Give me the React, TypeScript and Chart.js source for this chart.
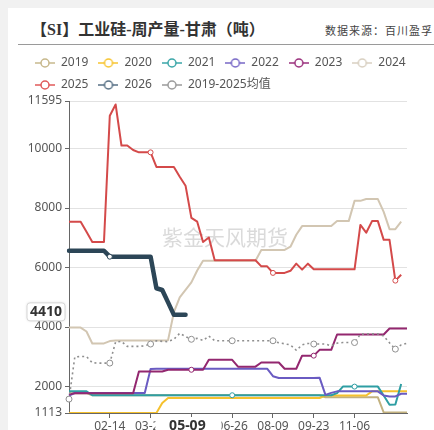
import React, { useEffect, useRef } from 'react';
import { Chart, registerables } from 'chart.js';

Chart.register(...registerables);

const categories = [
  '01-01', '01-07', '01-13', '01-19', '01-25', '02-01', '02-08', '02-14', '02-20', '02-26',
  '03-04', '03-10', '03-16', '03-22', '03-28', '04-03', '04-09', '04-15', '04-21', '04-27',
  '05-03', '05-09', '05-16', '05-23', '05-30', '06-06', '06-13', '06-19', '06-26', '07-02',
  '07-08', '07-14', '07-21', '07-27', '08-03', '08-09', '08-15', '08-22', '08-28', '09-04',
  '09-10', '09-17', '09-23', '09-29', '10-06', '10-12', '10-18', '10-24', '10-31', '11-06',
  '11-12', '11-19', '11-25', '12-01', '12-07', '12-13', '12-19', '12-25', '12-31',
];
const shownLabelIdx = [7, 14, 21, 28, 35, 42, 49];
const yTicks = [1113, 2000, 4000, 6000, 8000, 10000, 11595];
const yMin = 1113;
const yMax = 11595;
const pointerIdx = 21;
const pointerValue = 4410;

const seriesNames = ['2019', '2020', '2021', '2022', '2023', '2024', '2025', '2026', '2019-2025均值'];

const s2019 = [
  1780, 1780, 1780, 1780, 1710, 1710, 1710, 1710, 1710, 1710,
  1710, 1710, 1710, 1710, 1710, 1710, 1710, 1710, 1710, 1710,
  1710, 1710, 1710, 1710, 1710, 1710, 1710, 1710, 1710, 1710,
  1710, 1710, 1710, 1710, 1710, 1710, 1710, 1710, 1710, 1710,
  1710, 1710, 1710, 1710, 1640, 1640, 1640, 1640, 1640, 1640,
  1640, 1640, 1640, 1640, 1130, 1130, 1130, 1130, 1130,
];
const s2020 = [
  1113, 1113, 1113, 1113, 1113, 1113, 1113, 1113, 1113, 1113,
  1113, 1113, 1113, 1113, 1113, 1113, 1450, 1616, 1616, 1616,
  1616, 1616, 1616, 1616, 1616, 1616, 1616, 1616, 1616, 1616,
  1616, 1616, 1616, 1616, 1616, 1616, 1616, 1616, 1616, 1616,
  1616, 1616, 1616, 1616, 1700, 1700, 1700, 1700, 1700, 1700,
  1700, 1700, 1840, 1840, 1840, 1840, 1840, 1840, 1840,
];
const s2021 = [
  1840, 1840, 1840, 1840, 1710, 1710, 1710, 1710, 1710, 1710,
  1710, 1710, 1710, 1710, 1710, 1710, 1710, 1710, 1710, 1710,
  1710, 1710, 1710, 1710, 1710, 1710, 1710, 1710, 1710, 1710,
  1710, 1710, 1710, 1710, 1710, 1710, 1710, 1710, 1710, 1710,
  1710, 1710, 1710, 1710, 1710, 1710, 1780, 2000, 2000, 2000,
  2000, 2000, 2000, 2000, 1700, 1392, 1400, 2090,
];
const s2022 = [
  1700, 1784, 1784, 1784, 1784, 1784, 1784, 1784, 1784, 1784,
  1784, 1784, 1784, 1784, 2590, 2600, 2600, 2600, 2600, 2600,
  2600, 2600, 2600, 2600, 2600, 2600, 2600, 2600, 2600, 2600,
  2600, 2600, 2600, 2600, 2600, 2350, 2287, 2287, 2287, 2287,
  2287, 2287, 2287, 2300, 1720, 1790, 1840, 1840, 1840, 1840,
  1840, 1840, 1840, 1840, 1700, 1670, 1670, 1760, 1760,
];
const s2023 = [
  1730, 1780, 1780, 1780, 1780, 1780, 1780, 1780, 1780, 1780,
  1780, 1780, 2510, 2510, 2510, 2510, 2510, 2565, 2565, 2565,
  2565, 2565, 2565, 2565, 2900, 2900, 2900, 2900, 2900, 2670,
  2670, 2670, 2670, 2810, 2810, 2810, 2810, 2600, 2600, 2600,
  3040, 3040, 3040, 3235, 3235, 3235, 3750, 3750, 3750, 3750,
  3750, 3750, 3750, 3750, 3750, 3950, 3950, 3950, 3950,
];
const s2024 = [
  3983, 3983, 3983, 3850, 3450, 3450, 3450, 3530, 3550, 3550,
  3550, 3550, 3550, 3550, 3550, 3550, 3550, 3560, 4500, 5000,
  5250, 5500, 5900, 6230, 6230, 6230, 6230, 6230, 6230, 6230,
  6230, 6230, 6230, 6590, 6590, 6590, 6590, 6590, 6700, 7100,
  7393, 7393, 7393, 7393, 7393, 7393, 7560, 7560, 7560, 8240,
  8240, 8300, 8300, 8300, 7870, 7290, 7290, 7540,
];
const s2025 = [
  7540, 7540, 7540, 7200, 6860, 6860, 6860, 11100, 11480, 10100,
  10100, 9950, 9870, 9870, 9870, 9380, 9380, 9380, 9380, 9050,
  8750, 7670, 7540, 6860, 7010, 6245, 6245, 6245, 6245, 6245,
  6245, 6245, 6245, 6040, 6040, 5820, 5820, 5820, 5890, 6130,
  5930, 6130, 5940, 5940, 5940, 5940, 5940, 5940, 5940, 5940,
  7430, 7170, 7560, 7560, 6930, 6930, 5560, 5760,
];
const s2026 = [
  6565, 6565, 6565, 6565, 6565, 6565, 6565, 6365, 6365, 6365,
  6365, 6365, 6365, 6365, 6365, 5305, 5245, 4830, 4410, 4410,
  4410,
];
const sAvg = [
  1580, 3000, 3010, 3010, 2800, 2790, 2790, 2790, 3500, 3520,
  3350, 3350, 3350, 3370, 3430, 3540, 3520, 3510, 3590, 3790,
  3680, 3590, 3620, 3550, 3700, 3540, 3540, 3540, 3540, 3540,
  3540, 3540, 3540, 3540, 3540, 3540, 3470, 3440, 3400, 3220,
  3400, 3450, 3430, 3430, 3430, 3370, 3460, 3480, 3480, 3480,
  3760, 3770, 3770, 3770, 3700, 3470, 3260, 3400, 3460,
];

const seriesData = [s2019, s2020, s2021, s2022, s2023, s2024, s2025, s2026, sAvg];
const lineColors = ['#c2b17f', '#f5c12e', '#2e9ea3', '#6a5bc2', '#93276f', '#d2c6b2', '#d44a4a', '#2c4657', '#8f8f8f'];
const legendColors = ['#c7b88c', '#f7c531', '#3aa6a8', '#7767c6', '#9a2f7c', '#d8cfc0', '#e05a5a', '#566f84', '#9a9a9a'];
const markerIdx = [[], [], [28, 49], [], [21, 42], [], [14, 35, 56], [7], [0, 7, 14, 21, 28, 35, 42, 49, 56]];

const FONT = '"Noto Sans", "Noto Sans CJK SC", sans-serif';
const TOP = 37;

function makeIcon(color: string) {
  const c = document.createElement('canvas');
  c.width = 20;
  c.height = 12;
  const ctx = c.getContext('2d')!;
  ctx.strokeStyle = color;
  ctx.lineWidth = 1.5;
  ctx.beginPath();
  ctx.moveTo(0, 6);
  ctx.lineTo(20, 6);
  ctx.stroke();
  ctx.fillStyle = '#fff';
  ctx.beginPath();
  ctx.arc(10, 6, 4, 0, Math.PI * 2);
  ctx.fill();
  ctx.stroke();
  return c;
}

function roundRect(ctx: CanvasRenderingContext2D, x: number, y: number, w: number, h: number, r: number) {
  ctx.beginPath();
  ctx.moveTo(x + r, y);
  ctx.lineTo(x + w - r, y);
  ctx.quadraticCurveTo(x + w, y, x + w, y + r);
  ctx.lineTo(x + w, y + h - r);
  ctx.quadraticCurveTo(x + w, y + h, x + w - r, y + h);
  ctx.lineTo(x + r, y + h);
  ctx.quadraticCurveTo(x, y + h, x, y + h - r);
  ctx.lineTo(x, y + r);
  ctx.quadraticCurveTo(x, y, x + r, y);
  ctx.closePath();
}

const watermarkPlugin = {
  id: 'watermark',
  beforeDatasetsDraw(chart: any) {
    const ctx = chart.ctx;
    ctx.save();
    ctx.font = '21px "Noto Sans CJK SC", sans-serif';
    ctx.fillStyle = 'rgba(150,150,150,0.35)';
    ctx.textBaseline = 'middle';
    ctx.textAlign = 'left';
    ctx.fillText('紫金天风期货', 162, 237 - TOP);
    ctx.restore();
  },
};

const pointerPlugin = {
  id: 'pointerLabels',
  afterDraw(chart: any) {
    const ctx = chart.ctx;
    const xs = chart.scales.x;
    const ys = chart.scales.y;
    const px = xs.getPixelForValue(pointerIdx);
    const py = ys.getPixelForValue(pointerValue);
    ctx.save();
    ctx.fillStyle = '#fff';
    ctx.fillRect(px - 36, chart.chartArea.bottom + 4, 66, 30);
    ctx.fillStyle = '#333';
    ctx.font = 'bold 14px ' + FONT;
    ctx.textAlign = 'center';
    ctx.textBaseline = 'middle';
    ctx.fillText(categories[pointerIdx], px - 4, chart.chartArea.bottom + 13);
    const bx = 27, bw = 38, bh = 18;
    const by = py - 3 - bh / 2;
    ctx.shadowColor = 'rgba(0,0,0,0.15)';
    ctx.shadowBlur = 3;
    roundRect(ctx, bx, by, bw, bh, 3);
    ctx.fillStyle = '#fff';
    ctx.fill();
    ctx.shadowBlur = 0;
    ctx.strokeStyle = '#d6d6d6';
    ctx.lineWidth = 1;
    ctx.stroke();
    ctx.fillStyle = '#333';
    ctx.fillText(String(pointerValue), bx + bw / 2, by + bh / 2 + 0.5);
    ctx.restore();
  },
};

export default function App() {
  const ref = useRef<HTMLCanvasElement>(null);

  useEffect(() => {
    if (!ref.current) return;
    const icons = legendColors.map(makeIcon);
    const n = seriesData.length;
    const datasets = seriesData.map((data, i) => {
      const isAvg = i === n - 1;
      const is2026 = i === 7;
      return {
        label: seriesNames[i],
        data,
        order: 20 - i,
        borderColor: lineColors[i],
        backgroundColor: lineColors[i],
        borderWidth: is2026 ? 4.5 : isAvg ? 1.6 : 2,
        borderDash: isAvg ? [2, 3] : [],
        borderJoinStyle: 'round' as const,
        borderCapStyle: is2026 ? ('round' as const) : ('butt' as const),
        tension: 0,
        fill: false,
        pointRadius: (ctx: any) => (markerIdx[i].includes(ctx.dataIndex) ? (isAvg ? 3 : 2.5) : 0),
        pointBackgroundColor: '#fff',
        pointBorderColor: lineColors[i],
        pointBorderWidth: 1,
        pointHoverRadius: 0,
      };
    });

    const chart = new Chart(ref.current, {
      type: 'line',
      data: { labels: categories, datasets },
      options: {
        animation: false,
        responsive: false,
        events: [],
        layout: { padding: { left: 25, right: 0, top: 10, bottom: 0 } },
        font: { family: FONT },
        scales: {
          x: {
            type: 'category',
            offset: false,
            grid: { drawOnChartArea: false, drawTicks: true, tickLength: 5, tickColor: '#666' },
            border: { color: '#666' },
            ticks: {
              autoSkip: false,
              maxRotation: 0,
              color: '#555',
              font: { size: 12, family: FONT },
              padding: 1,
            },
            afterBuildTicks: (s: any) => {
              s.ticks = shownLabelIdx.map((v) => ({ value: v }));
            },
            afterFit: (s: any) => {
              s.height = 17;
            },
          },
          y: {
            type: 'linear',
            min: yMin,
            max: yMax,
            grid: { color: '#e2e2e2', tickColor: '#666', tickLength: 4 },
            border: { color: '#666' },
            ticks: {
              color: '#555',
              font: { size: 12, family: FONT },
              padding: 3,
              callback: (v: any) => String(v),
            },
            afterBuildTicks: (s: any) => {
              s.ticks = yTicks.map((v) => ({ value: v }));
            },
            afterFit: (s: any) => {
              s.width = 44;
            },
          },
          y2: {
            type: 'linear',
            position: 'right',
            display: true,
            grid: { display: false, drawTicks: false },
            border: { display: false },
            ticks: { display: false },
            afterFit: (s: any) => {
              s.width = 27;
            },
          },
        },
        plugins: {
          title: { display: false },
          tooltip: { enabled: false },
          legend: {
            display: true,
            position: 'top',
            align: 'start',
            labels: {
              usePointStyle: true,
              pointStyleWidth: 20,
              boxHeight: 12,
              padding: 10,
              color: '#555',
              font: { size: 12, family: FONT },
              generateLabels: (c: any) => {
                const items = (Chart.defaults.plugins.legend.labels as any).generateLabels(c);
                items.sort((a: any, b: any) => a.datasetIndex - b.datasetIndex);
                return items.map((it: any) => ({
                  ...it,
                  pointStyle: icons[it.datasetIndex],
                  fontColor: '#555',
                }));
              },
            },
          },
        },
      } as any,
      plugins: [watermarkPlugin, pointerPlugin],
    });
    return () => chart.destroy();
  }, []);

  return (
    <div
      style={{
        position: 'fixed',
        left: 0,
        top: 0,
        width: 434,
        height: 430,
        background: '#f1f1f1',
        overflow: 'hidden',
      }}
    >
      <div style={{ position: 'absolute', left: 8, top: 8, right: 0, bottom: 0, background: '#fff' }} />
      <div
        style={{
          position: 'absolute',
          left: 31,
          top: 21,
          fontFamily: '"Liberation Serif", "Noto Sans CJK SC", serif',
          fontWeight: 'bold',
          fontSize: 16,
          lineHeight: '18px',
          color: '#333',
          whiteSpace: 'nowrap',
        }}
      >
        【SI】工业硅-周产量-甘肃（吨）
      </div>
      <div
        style={{
          position: 'absolute',
          left: 325,
          top: 23,
          fontFamily: '"Noto Sans CJK SC", sans-serif',
          fontSize: 11,
          letterSpacing: 1,
          lineHeight: '14px',
          color: '#444',
          whiteSpace: 'nowrap',
        }}
      >
        数据来源：百川盈孚
      </div>
      <div style={{ position: 'absolute', left: 18, top: 44, width: 416, height: 1, background: '#9a9a9a' }} />
      <canvas
        ref={ref}
        width={434}
        height={393}
        style={{ position: 'absolute', left: 0, top: TOP, width: 434, height: 393 }}
      />
    </div>
  );
}
